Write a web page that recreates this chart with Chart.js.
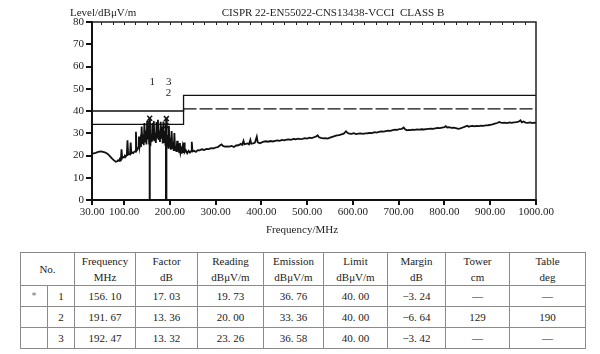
<!DOCTYPE html>
<html>
<head>
<meta charset="utf-8">
<script src="https://cdn.jsdelivr.net/npm/chart.js@4.4.0/dist/chart.umd.min.js"></script>
<style>
  html,body{margin:0;padding:0;background:#fff;}
  #wrap{position:relative;width:600px;height:354px;overflow:hidden;}
  #c{position:absolute;left:0;top:0;}
  #tbl{position:absolute;left:20px;top:252px;width:565px;border-collapse:collapse;table-layout:fixed;
       font:11px "Liberation Serif","DejaVu Serif",serif;color:#222;border:1.5px solid #444;}
  #tbl td,#tbl th{border:1px solid #8a8a8a;text-align:center;padding:0;font-weight:normal;overflow:hidden;white-space:nowrap;}
  #tbl tr.hd th{height:31px;line-height:16px;}
  #tbl tr.rw td{height:20px;line-height:20px;}
  #tbl td.star{color:#777;font-size:10px;}
</style>
</head>
<body>
<div id="wrap">
<canvas id="c" width="600" height="240"></canvas>
<table id="tbl"></table>
</div>
<script>
// ---------- data ----------
const freqs = [
  30,34,38,42,46,50,54,58,62,66,70,74,78,82,85,87,89,91,93,94.5,96,98,100,102,104,106,107.5,109,111,113,114.5,116,118,120,122,124,126,127.5,129,
  131,132.5,134,135.5,137,138.5,140,141.5,143,144.5,146,147.5,149,150.5,152,153.5,155,156.1,157.5,159,160.5,162,163.5,165,166.5,168,169.5,171,172.5,174,175.5,177,178.5,180,181.5,183,184.5,186,187.5,189,190.5,191.67,192.47,193.5,195,196.5,198,199.5,201,202.5,204,205.5,207,208.5,210,211.5,213,214.5,216,217.5,219,220.5,222,223.5,225,226.5,228,229.5,
  231,232.5,235,238,241,244,246.5,248,249.5,253,257,261,265,270,275,280,285,290,296,300,305,310,313,316,320,325,330,335,340,345,350,355,358,361,363,366,370,373,376,378,382,386,390,392,396,400,
  405,410,415,420,425,430,435,440,445,450,455,460,465,470,475,480,485,490,495,500,505,510,515,520,523,526,530,535,540,545,550,555,560,565,570,575,580,585,588,592,597,
  602,607,612,617,622,627,632,637,642,647,652,657,662,667,672,677,682,687,692,697,702,707,711,714,718,722,726,730,735,740,745,750,755,760,765,770,775,780,785,790,795,
  800,803,806,810,815,820,825,830,835,840,845,850,853,857,862,866,870,875,880,885,890,895,900,905,910,915,920,923,927,932,937,942,947,952,957,962,966,969,973,977,982,987,992,996,1000
];
const levels = [
  20.8,21.0,21.2,21.5,21.7,21.8,21.6,21.4,21.0,20.4,19.5,18.6,17.8,17.2,17.4,17.9,17.6,18.4,18.1,22.8,18.8,19.4,19.2,19.9,19.6,20.2,26.8,20.4,20.7,20.5,25.8,21.0,21.3,21.1,21.6,21.8,30.7,22.2,22.6,
  23.4,28.5,24.2,26.5,23.8,33.0,25.2,29.5,24.6,34.6,26.3,31.2,25.0,35.6,27.2,33.1,25.4,36.76,24.2,29.6,26.1,34.6,27.1,35.5,26.4,30.2,25.6,35.0,28.1,36.1,27.0,31.2,26.1,35.2,27.6,33.0,25.4,35.3,26.0,31.1,24.4,33.36,36.58,24.1,29.2,23.4,33.4,24.3,28.1,22.6,31.0,23.0,26.2,22.1,30.1,22.4,24.2,21.6,26.6,21.8,23.6,21.4,25.6,21.3,22.6,20.9,23.6,21.2,
  25.8,21.5,22.3,21.0,22.1,21.3,22.0,26.2,21.8,22.1,21.6,22.4,22.3,22.8,22.5,23.0,22.9,23.3,23.2,23.6,23.8,24.6,25.0,24.3,24.0,24.1,24.0,24.3,23.8,24.5,24.6,25.2,24.8,26.6,25.0,25.2,25.4,25.0,27.0,25.3,25.5,25.8,28.5,26.0,25.5,25.8,
  26.2,26.4,26.2,26.5,26.3,26.6,26.8,26.6,27.0,26.8,27.1,27.2,27.0,27.4,27.3,27.6,27.4,27.5,27.8,27.6,28.0,27.8,28.2,28.6,29.1,28.2,27.9,27.7,27.8,27.6,28.0,28.4,28.7,29.0,29.2,29.5,29.8,30.9,30.2,29.8,29.7,
  30.0,29.6,29.8,29.9,29.7,29.9,30.0,30.2,30.1,30.5,30.3,30.6,30.8,30.7,31.0,31.2,31.1,31.4,31.6,31.5,31.9,32.0,32.6,31.8,31.3,31.5,31.4,31.6,31.5,31.7,31.6,31.8,31.7,31.9,32.0,32.1,32.0,32.2,32.4,32.3,32.5,
  32.7,33.2,32.6,32.7,32.4,32.5,32.3,32.0,32.2,32.6,33.0,33.4,32.9,33.2,33.3,33.1,33.3,33.2,33.4,33.3,33.5,33.6,33.8,34.0,34.3,34.6,35.1,34.8,34.7,34.8,34.6,34.9,34.7,34.9,35.0,35.2,35.8,34.9,35.3,34.8,34.7,34.9,34.6,34.8,34.7
];
// CISPR 22 class B limit (solid) and limit - 6 dB
const limitFreqs  = [30, 230, 230, 1000];
const limitLevels = [40, 40, 47, 47];
const marginFreqs  = [30, 230, 230, 1000];
const marginLevels = [34, 34, 41, 41];
// marked peaks
const markerNames  = ['1', '2', '3'];
const markerFreqs  = [156.10, 191.67, 192.47];
const markerLevels = [36.76, 33.36, 36.58];
const markerLabelLevels = [53, 48, 53];
// axis ticks
const xTicks = [30, 100, 200, 300, 400, 500, 600, 700, 800, 900, 1000];
const topMinorTicks = [50,75,100,125,150,175,200,225,250,275,300,325,350,375,400,425,450,475,500,525,550,575,600,625,650,675,700,725,750,775,800,825,850,875,900,925,950,975];
// table
const rowMarks    = ['*', '', ''];
const rowNos      = ['1', '2', '3'];
const freqCol     = ['156. 10', '191. 67', '192. 47'];
const factorCol   = ['17. 03', '13. 36', '13. 32'];
const readingCol  = ['19. 73', '20. 00', '23. 26'];
const emissionCol = ['36. 76', '33. 36', '36. 58'];
const limitCol    = ['40. 00', '40. 00', '40. 00'];
const marginCol   = ['\u22123. 24', '\u22126. 64', '\u22123. 42'];
const towerCol    = ['\u2014', '129', '\u2014'];
const tableCol    = ['\u2014', '190', '\u2014'];
const headTop     = ['Frequency', 'Factor', 'Reading', 'Emission', 'Limit', 'Margin', 'Tower', 'Table'];
const headUnit    = ['MHz', 'dB', 'dB\u03bcV/m', 'dB\u03bcV/m', 'dB\u03bcV/m', 'dB', 'cm', 'deg'];
const colWidths   = [27, 27, 61, 62, 66, 60, 64, 58, 64, 76];

// ---------- table ----------
(function buildTable(){
  const t = document.getElementById('tbl');
  let h = '<colgroup>' + colWidths.map(w => '<col style="width:' + w + 'px">').join('') + '</colgroup>';
  h += '<tr class="hd"><th colspan="2">No.</th>' + headTop.map((s,i) => '<th>' + s + '<br>' + headUnit[i] + '</th>').join('') + '</tr>';
  for (let i = 0; i < rowNos.length; i++) {
    h += '<tr class="rw"><td class="star">' + rowMarks[i] + '</td><td>' + rowNos[i] + '</td><td>' + freqCol[i] + '</td><td>' + factorCol[i] +
         '</td><td>' + readingCol[i] + '</td><td>' + emissionCol[i] + '</td><td>' + limitCol[i] + '</td><td>' + marginCol[i] +
         '</td><td>' + towerCol[i] + '</td><td>' + tableCol[i] + '</td></tr>';
  }
  t.innerHTML = h;
})();

// ---------- chart ----------
const FONT = '"Liberation Serif","DejaVu Serif",serif';
const pts = (xs, ys) => xs.map((x, i) => ({x: x, y: ys[i]}));

const datasets = [
  {data: pts(freqs, levels), borderColor: '#111', borderWidth: 1.8, pointRadius: 0, tension: 0},
  {data: pts(limitFreqs, limitLevels), borderColor: '#111', borderWidth: 1.3, pointRadius: 0},
  {data: pts(marginFreqs, marginLevels), borderColor: '#111', borderWidth: 1.3, pointRadius: 0,
   segment: {borderDash: ctx => (ctx.p1.parsed.x > ctx.p0.parsed.x && ctx.p0.parsed.x >= 230) ? [13, 3] : undefined}}
];
markerFreqs.forEach((f, i) => {
  datasets.push({data: [{x: f, y: 0}, {x: f, y: markerLevels[i]}], borderColor: '#111', borderWidth: 2, pointRadius: 0});
});
datasets.push({data: pts(markerFreqs, markerLevels), showLine: false, pointStyle: 'crossRot', pointRadius: 3.5,
               borderColor: '#111', borderWidth: 1.5, backgroundColor: '#111'});

const textPlugin = {
  id: 'texts',
  afterDraw(chart) {
    const {ctx, chartArea: a, scales: {x, y}} = chart;
    ctx.save();
    // frame top & right
    ctx.strokeStyle = '#222';
    ctx.lineWidth = 1.5;
    ctx.beginPath();
    ctx.moveTo(a.left, a.top); ctx.lineTo(a.right, a.top); ctx.lineTo(a.right, a.bottom);
    ctx.stroke();
    // minor ticks on top edge
    ctx.lineWidth = 1;
    ctx.beginPath();
    topMinorTicks.forEach(v => { const px = Math.round(x.getPixelForValue(v)) + 0.5; ctx.moveTo(px, a.top); ctx.lineTo(px, a.top + 3); });
    ctx.stroke();
    // texts
    ctx.fillStyle = '#222';
    ctx.font = '11px ' + FONT;
    ctx.textBaseline = 'middle';
    ctx.textAlign = 'left';
    ctx.fillText('Level/dB\u03bcV/m', 70, 13.5);
    ctx.textAlign = 'center';
    ctx.fillText('CISPR 22-EN55022-CNS13438-VCCI  CLASS B', 333, 13.5);
    ctx.fillText('Frequency/MHz', 302, 230);
    markerNames.forEach((n, i) => {
      ctx.fillText(n, x.getPixelForValue(markerFreqs[i]) + 2.5, y.getPixelForValue(markerLabelLevels[i]));
    });
    ctx.restore();
  }
};

new Chart(document.getElementById('c'), {
  type: 'line',
  data: {datasets: datasets},
  options: {
    responsive: false,
    animation: false,
    parsing: true,
    layout: {padding: {left: 0, right: 64, top: 22, bottom: 0}},
    plugins: {legend: {display: false}, tooltip: {enabled: false}, title: {display: false}},
    scales: {
      x: {
        type: 'linear', min: 30, max: 1000,
        afterBuildTicks: s => { s.ticks = xTicks.map(v => ({value: v})); },
        afterFit: s => { s.height = 40; },
        ticks: {autoSkip: false, maxRotation: 0, padding: 1, color: '#222', font: {family: FONT, size: 11},
                callback: v => Number(v).toFixed(2)},
        grid: {drawOnChartArea: false, drawTicks: true, tickLength: 5, color: '#111', lineWidth: 2},
        border: {display: true, color: '#111', width: 2}
      },
      y: {
        type: 'linear', min: 0, max: 80,
        afterFit: s => { s.width = 92; },
        ticks: {stepSize: 10, padding: 2, color: '#222', font: {family: FONT, size: 11}},
        grid: {drawOnChartArea: false, drawTicks: true, tickLength: 6, color: '#111', lineWidth: 2},
        border: {display: true, color: '#111', width: 2}
      }
    }
  },
  plugins: [textPlugin]
});
</script>
</body>
</html>
